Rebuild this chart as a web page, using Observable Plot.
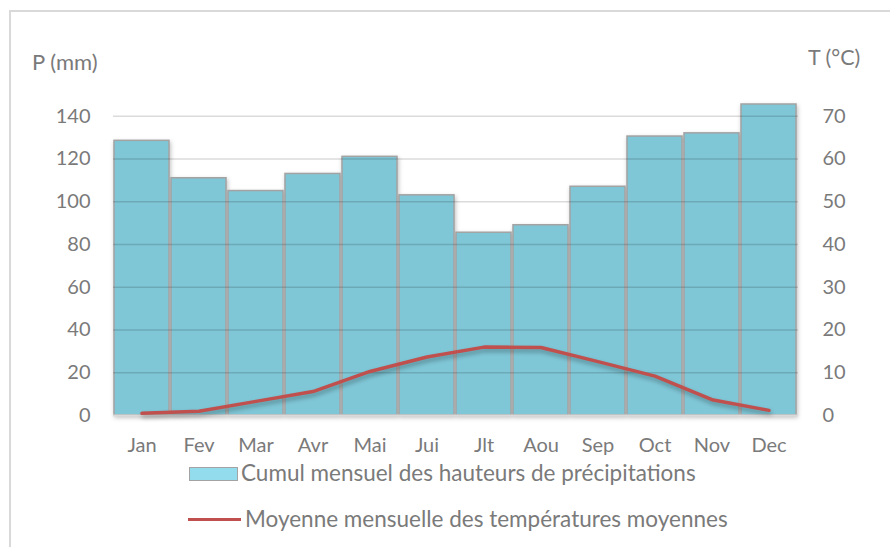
<!DOCTYPE html>
<html>
<head>
<meta charset="utf-8">
<script src="https://cdn.jsdelivr.net/npm/d3@7"></script>
<script src="https://cdn.jsdelivr.net/npm/@observablehq/plot@0.6"></script>
<style>
  body { margin: 0; background: #fff; font-family: Lato, "Open Sans", sans-serif; color: #7a7a7a; }
  #wrap { position: relative; width: 890px; height: 547px; overflow: hidden; }
  #frame { position: absolute; left: 9px; top: 10px; width: 900px; height: 600px; border-left: 2px solid #d9d9d9; border-top: 2px solid #d9d9d9; }
  #chart { position: absolute; left: 0; top: 0; }
  .lab { position: absolute; font-size: 22.5px; line-height: 22px; white-space: nowrap; }
  g[aria-label="bar"] { filter: drop-shadow(1px 2px 2px rgba(0,0,0,0.25)); }
  g[aria-label="line"] { filter: drop-shadow(1px 3px 2px rgba(0,0,0,0.3)); }
</style>
</head>
<body>
<div id="wrap">
  <div id="frame"></div>
  <div id="chart"></div>
  <div class="lab" style="left:32px; top:51px; font-size:22px;">P (mm)</div>
  <div class="lab" style="left:808px; top:46px; font-size:21.5px;">T (°C)</div>
  <div id="legend"></div>
</div>
<script>
const months = ["Jan","Fev","Mar","Avr","Mai","Jui","Jlt","Aou","Sep","Oct","Nov","Dec"];
const precipitation = [128.5, 111, 105, 113, 121, 103, 85.5, 89, 107, 130.5, 132, 145.5];
const temperature = [0.5, 1.0, 3.3, 5.6, 10.3, 13.7, 16.0, 15.9, 12.6, 9.2, 3.7, 1.2];
const pTicks = [0, 20, 40, 60, 80, 100, 120, 140];
const tTicks = [0, 10, 20, 30, 40, 50, 60, 70];
const seriesP = "Cumul mensuel des hauteurs de précipitations";
const seriesT = "Moyenne mensuelle des températures moyennes";

const data = months.map((m, i) => ({month: m, p: precipitation[i], t: temperature[i]}));
const ratio = pTicks[pTicks.length - 1] / tTicks[tTicks.length - 1];

const chart = Plot.plot({
  width: 890,
  height: 460,
  marginLeft: 113,
  marginRight: 92,
  marginTop: 73,
  marginBottom: 45,
  style: {fontFamily: "Lato, 'Open Sans', sans-serif", fontSize: "20px", color: "#7a7a7a", background: "transparent"},
  x: {domain: months, paddingInner: 0.035, paddingOuter: 0, label: null},
  y: {domain: [0, 160], label: null},
  marks: [
    Plot.barY(data, {x: "month", y: "p", fill: "#7FC6D6", stroke: "#A3A3A3", strokeWidth: 1.5}),
    Plot.ruleY(pTicks.filter(d => d > 0), {stroke: "#000", strokeOpacity: 0.14, strokeWidth: 1.5}),
    Plot.ruleY([0], {stroke: "#d9d9d9", strokeWidth: 2}),
    Plot.lineY(data, {x: "month", y: d => d.t * ratio, stroke: "#C0504D", strokeWidth: 3.5, strokeLinejoin: "round"}),
    Plot.axisX({tickSize: 0, tickPadding: 22, label: null, fontSize: 20}),
    Plot.axisY({anchor: "left", ticks: pTicks, tickSize: 0, tickPadding: 23, label: null, fontSize: 20}),
    Plot.axisY({anchor: "right", ticks: tTicks.map(t => t * ratio), tickFormat: d => d / ratio, tickSize: 0, tickPadding: 24, textAnchor: "start", label: null, fontSize: 20})
  ]
});
document.getElementById("chart").appendChild(chart);

const legend = document.getElementById("legend");
legend.innerHTML = `
  <div style="position:absolute; left:189px; top:467px; width:47px; height:12px; background:#93DCEE; border:1.5px solid #A3A3A3;"></div>
  <div class="lab" style="left:241px; top:462px;">${seriesP}</div>
  <div style="position:absolute; left:188px; top:518px; width:53px; height:3px; background:#C0504D;"></div>
  <div class="lab" style="left:245px; top:508px;">${seriesT}</div>
`;
</script>
</body>
</html>
